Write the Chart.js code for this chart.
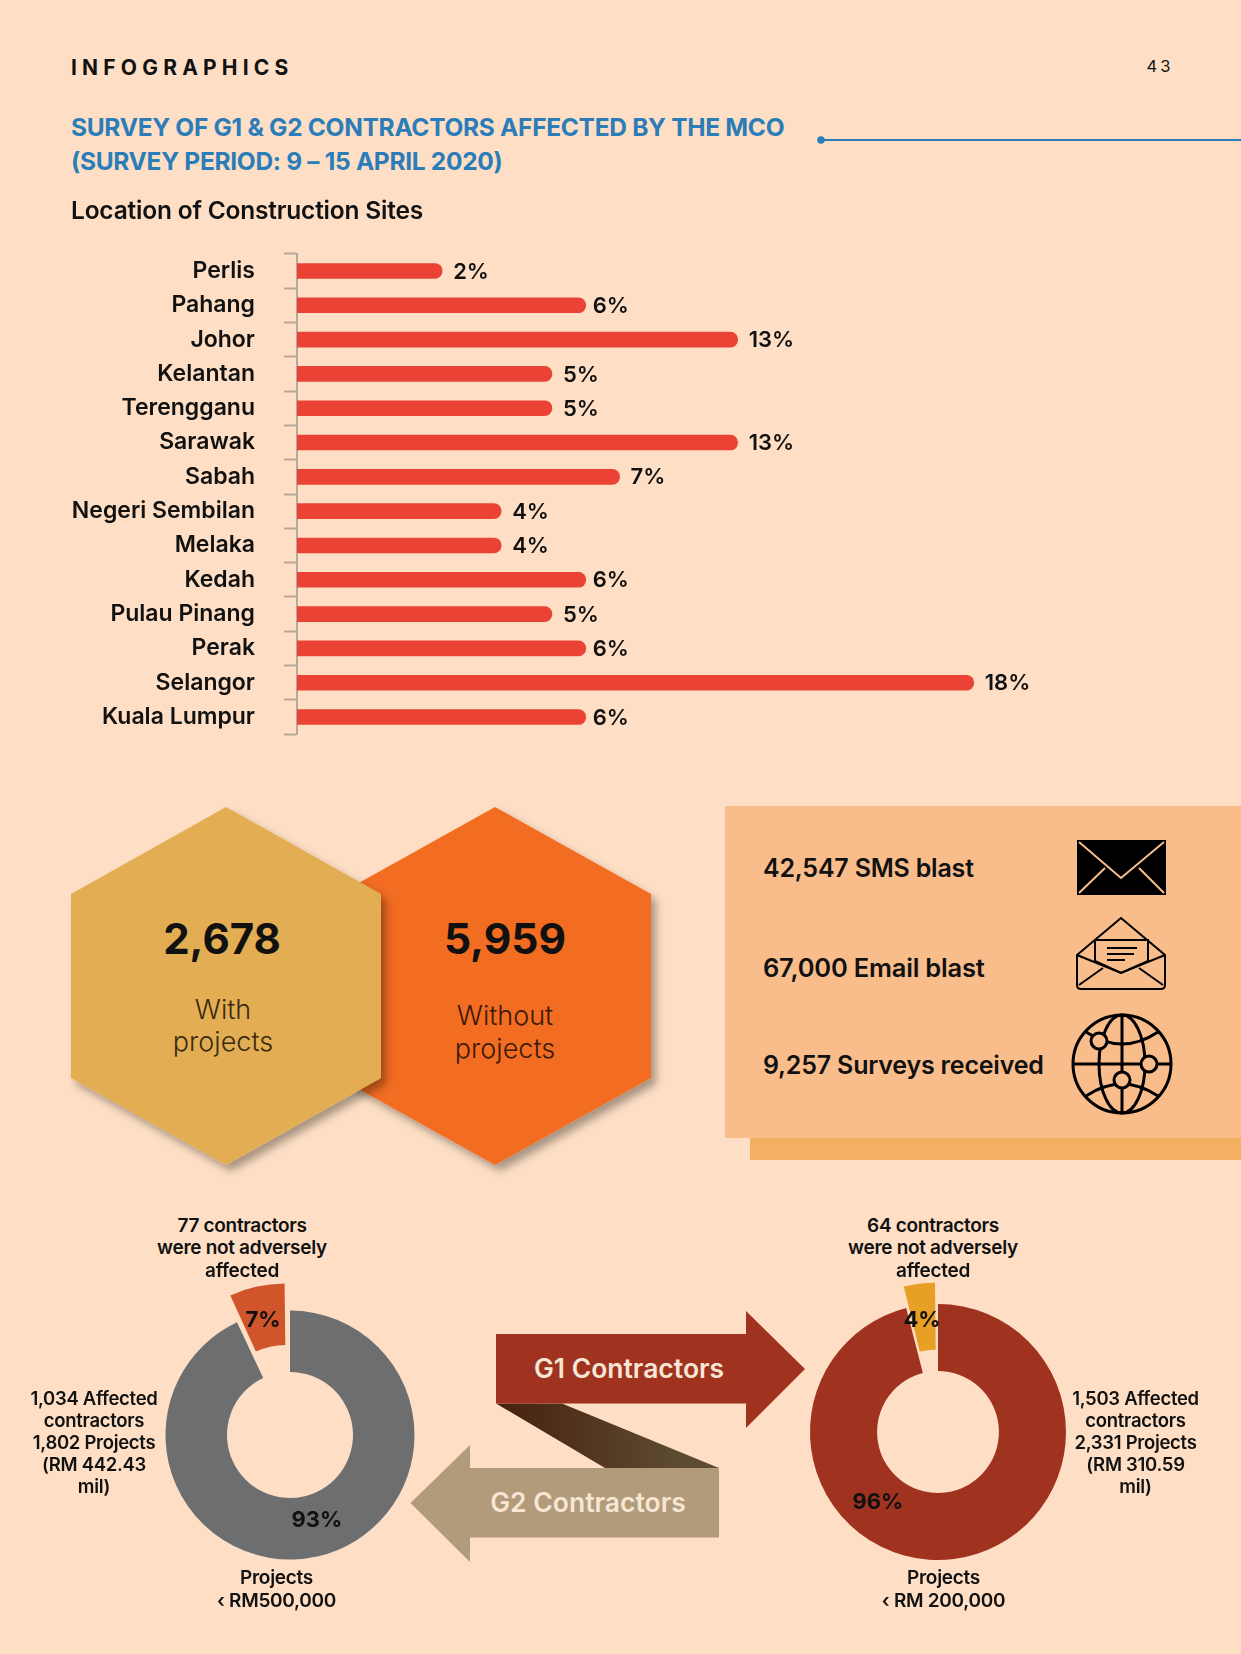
<!DOCTYPE html>
<html>
<head>
<meta charset="utf-8">
<title>Survey of G1 & G2 contractors</title>
<script src="https://cdn.jsdelivr.net/npm/chart.js@4/dist/chart.umd.min.js"></script>
<style>
    html, body { margin: 0; padding: 0; }
    #page { position: relative; width: 1241px; height: 1654px; overflow: hidden; background: #fedfc5; font-family: Inter, sans-serif; color: #111; }
    #page canvas, #page svg { position: absolute; }
    .t { position: absolute; white-space: nowrap; transform: translate(-50%, -50%); line-height: 1; }
    .t.left { transform: translate(0, -50%); }
</style>
</head>
<body>
<div id="page">
    <div id="panel-back" style="position:absolute;left:750px;top:1000px;width:491px;height:160px;background:#f4b062"></div>
    <div id="panel" style="position:absolute;left:725px;top:806px;width:516px;height:332px;background:#f9bc8b"></div>

    <svg width="1241" height="1654" style="left:0;top:0">
        <defs>
            <linearGradient id="ribbon" x1="0" x2="1" y1="0" y2="0">
                <stop offset="0" stop-color="#47200f"/>
                <stop offset="0.85" stop-color="#5d4c32"/>
            </linearGradient>
            <filter id="hexShadow" x="-20%" y="-20%" width="140%" height="140%">
                <feDropShadow dx="5" dy="6" stdDeviation="4" flood-color="#000" flood-opacity="0.34"/>
            </filter>
        </defs>
        <line x1="821" y1="140" x2="1241" y2="140" stroke="#2a7db8" stroke-width="2"/>
        <circle cx="821" cy="140" r="3.8" fill="#2a7db8"/>

        <polygon points="495,807 651,894 651,1078 495,1165 339,1078 339,894" fill="#f26c21" filter="url(#hexShadow)"/>
        <polygon points="226,807 381,894 381,1078 226,1165 71,1078 71,894" fill="#e3ae53" filter="url(#hexShadow)"/>

        <!-- envelope -->
        <rect x="1077" y="840" width="89" height="55" fill="#000"/>
        <path d="M1079 842 L1121 878 L1164 842 M1079 893 L1105 868 M1164 893 L1139 868" fill="none" stroke="#f9bc8b" stroke-width="2"/>
        <!-- open envelope -->
        <g fill="none" stroke="#000" stroke-width="2">
            <path d="M1077 955 L1121 918 L1165 955 L1165 985 Q1165 989 1161 989 L1081 989 Q1077 989 1077 985 Z"/>
            <path d="M1077 955 L1121 973 L1165 955"/>
            <path d="M1095 940 L1148 940 L1148 961 L1121 973 L1095 961 Z"/>
            <path d="M1107 948 L1137 948 M1107 954 L1134 954 M1107 960 L1125 960"/>
            <path d="M1079 985 L1103 968 M1163 985 L1139 968"/>
        </g>
        <!-- globe -->
        <g fill="none" stroke="#000" stroke-width="3">
            <circle cx="1122" cy="1064" r="49"/>
            <ellipse cx="1122" cy="1064" rx="23" ry="49"/>
            <path d="M1073 1064 L1171 1064 M1122 1015 L1122 1113"/>
            <path d="M1086 1032 Q1122 1056 1158 1032 M1086 1096 Q1122 1072 1158 1096"/>
            <circle cx="1099" cy="1041" r="8" fill="#f9bc8b"/>
            <circle cx="1149" cy="1064" r="8" fill="#f9bc8b"/>
            <circle cx="1122" cy="1080" r="8" fill="#f9bc8b"/>
        </g>

        <!-- arrows -->
        <polygon points="496,1403.5 562,1403.5 719,1468 605,1468" fill="url(#ribbon)"/>
        <polygon points="496,1334 746,1334 746,1311 805,1369 746,1428 746,1403.5 496,1403.5" fill="#a03320"/>
        <polygon points="719,1468 470,1468 470,1445 410.5,1503 470,1562 470,1537.6 719,1537.6" fill="#b19b7b"/>
    </svg>

    <canvas id="barChart" style="left:0;top:211px"></canvas>
    <canvas id="g2Chart" style="left:130px;top:1275px"></canvas>
    <canvas id="g1Chart" style="left:778px;top:1272px"></canvas>
</div>

<script>
    const states = ["Perlis", "Pahang", "Johor", "Kelantan", "Terengganu", "Sarawak", "Sabah", "Negeri Sembilan", "Melaka", "Kedah", "Pulau Pinang", "Perak", "Selangor", "Kuala Lumpur"];
    // the printed percentages
    const percentLabels = ["2%", "6%", "13%", "5%", "5%", "13%", "7%", "4%", "4%", "6%", "5%", "6%", "18%", "6%"];
    // the bars in the picture are not in proportion to their labels, so these are
    // the lengths as drawn, read off against Selangor = 18
    const barLengths = [3.86, 7.68, 11.72, 6.78, 6.78, 11.72, 8.58, 5.43, 5.43, 7.68, 6.78, 7.68, 18, 7.68];

    const g2Values = [93, 7];
    const g1Values = [96, 4];
    const g2Colors = ["#6d6e70", "#d1552a"];
    const g1Colors = ["#a03320", "#e89f25"];

    const headline = ["2,678", "5,959"];
    const blastLines = ["42,547 SMS blast", "67,000 Email blast", "9,257 Surveys received"];
    const g2Top = ["77 contractors", "were not adversely", "affected"];
    const g1Top = ["64 contractors", "were not adversely", "affected"];
    const g2Side = ["1,034 Affected", "contractors", "1,802 Projects", "(RM 442.43", "mil)"];
    const g1Side = ["1,503 Affected", "contractors", "2,331 Projects", "(RM 310.59", "mil)"];
    const g2Bottom = ["Projects", "‹ RM500,000"];
    const g1Bottom = ["Projects", "‹ RM 200,000"];

    const page = document.getElementById("page");

    function addText(str, x, y, size, weight, extra) {
        const el = document.createElement("div");
        el.className = "t" + (extra && extra.left ? " left" : "");
        el.innerText = str;
        el.style.left = x + "px";
        el.style.top = y + "px";
        el.style.fontSize = size + "px";
        el.style.fontWeight = weight;
        if (extra && extra.color) el.style.color = extra.color;
        if (extra && extra.spacing) el.style.letterSpacing = extra.spacing;
        page.appendChild(el);
    }

    function addLines(lines, x, ys, size) {
        lines.forEach((line, i) => addText(line, x, ys[i], size, 600, { spacing: "-0.3px" }));
    }

    addText("INFOGRAPHICS", 71, 66.5, 21, 700, { left: true, spacing: "5.2px" });
    addText("43", 1160, 66, 16.5, 400, { spacing: "3px" });
    addText("SURVEY OF G1 & G2 CONTRACTORS AFFECTED BY THE MCO", 71, 127, 24.5, 700, { left: true, color: "#2a7db8", spacing: "-0.3px" });
    addText("(SURVEY PERIOD: 9 – 15 APRIL 2020)", 71, 160.5, 24.5, 700, { left: true, color: "#2a7db8", spacing: "-0.3px" });
    addText("Location of Construction Sites", 71, 210, 24.5, 600, { left: true, spacing: "-0.2px" });

    addText(headline[0], 222, 939, 42, 700);
    addText(headline[1], 505, 939, 42.5, 700);
    addText("With", 223, 1009, 27, 300, { color: "#3a2a10" });
    addText("projects", 223, 1041, 27, 300, { color: "#3a2a10" });
    addText("Without", 505, 1014.5, 27, 300, { color: "#3a1a08" });
    addText("projects", 505, 1047.5, 27, 300, { color: "#3a1a08" });

    addText(blastLines[0], 763, 868, 25, 600, { left: true, spacing: "-0.2px" });
    addText(blastLines[1], 763, 967.5, 25.5, 600, { left: true, spacing: "-0.2px" });
    addText(blastLines[2], 763, 1064.5, 25, 600, { left: true, spacing: "-0.2px" });

    addText("G1 Contractors", 629, 1368, 26.5, 600, { color: "#f7e6d3" });
    addText("G2 Contractors", 588, 1502, 26.5, 600, { color: "#f7e6d3" });

    addLines(g2Top, 242, [1224.5, 1246.5, 1269.5], 19);
    addLines(g1Top, 933, [1224.5, 1246.5, 1269.5], 19);
    addLines(g2Side, 94, [1397.5, 1419.5, 1441.5, 1463.5, 1485.5], 18.5);
    addLines(g1Side, 1135.5, [1397.5, 1419.5, 1441.5, 1463.5, 1485.5], 18.5);
    addLines(g2Bottom, 276.5, [1576.5, 1599.5], 19);
    addLines(g1Bottom, 943.5, [1576.5, 1599.5], 19);

    addText(g2Values[1] + "%", 263, 1319, 22, 700);
    addText(g2Values[0] + "%", 317, 1519, 22, 700);
    addText(g1Values[1] + "%", 922, 1319, 22, 700);
    addText(g1Values[0] + "%", 878, 1501, 22, 700);

    const barEndLabels = {
        id: "barEndLabels",
        afterDatasetsDraw(chart) {
            const ctx = chart.ctx;
            ctx.save();
            ctx.font = "600 22px Inter";
            ctx.fillStyle = "#111";
            ctx.textBaseline = "middle";
            chart.getDatasetMeta(0).data.forEach((bar, i) => {
                const gap = percentLabels[i] === "6%" ? 7 : 11;
                ctx.fillText(percentLabels[i], bar.x + gap, bar.y + 1);
            });
            ctx.restore();
        }
    };

    const barCanvas = document.getElementById("barChart");
    barCanvas.width = 1241;
    barCanvas.height = 566;
    new Chart(barCanvas, {
        type: "bar",
        data: {
            labels: states,
            datasets: [{
                data: barLengths,
                backgroundColor: "#ea4335",
                barThickness: 15,
                borderRadius: 8
            }]
        },
        options: {
            indexAxis: "y",
            responsive: false,
            animation: false,
            layout: { padding: { right: 4 } },
            plugins: { legend: { display: false }, tooltip: { enabled: false } },
            scales: {
                x: { display: false, min: 0, max: 25 },
                y: {
                    afterFit(scale) { scale.width = 297; },
                    border: { color: "#b5a99c", width: 2 },
                    grid: { offset: true, drawOnChartArea: false, drawTicks: true, tickLength: 13, tickColor: "#b5a99c", tickWidth: 2 },
                    ticks: { color: "#111", padding: 29, autoSkip: false, font: { family: "Inter", size: 23, weight: "600" } }
                }
            }
        },
        plugins: [barEndLabels]
    });

    function donut(id, size, values, colors, radius, cutout, offset) {
        const canvas = document.getElementById(id);
        canvas.width = size;
        canvas.height = size;
        new Chart(canvas, {
            type: "doughnut",
            data: {
                datasets: [{
                    data: values,
                    backgroundColor: colors,
                    borderWidth: 0,
                    offset: [0, offset]
                }]
            },
            options: {
                responsive: false,
                animation: false,
                radius: radius,
                cutout: cutout,
                plugins: { legend: { display: false }, tooltip: { enabled: false } }
            }
        });
    }

    donut("g2Chart", 320, g2Values, g2Colors, 124.5, "50.6%", 70);
    donut("g1Chart", 320, g1Values, g1Colors, 128, "47.6%", 49);
</script>
</body>
</html>
